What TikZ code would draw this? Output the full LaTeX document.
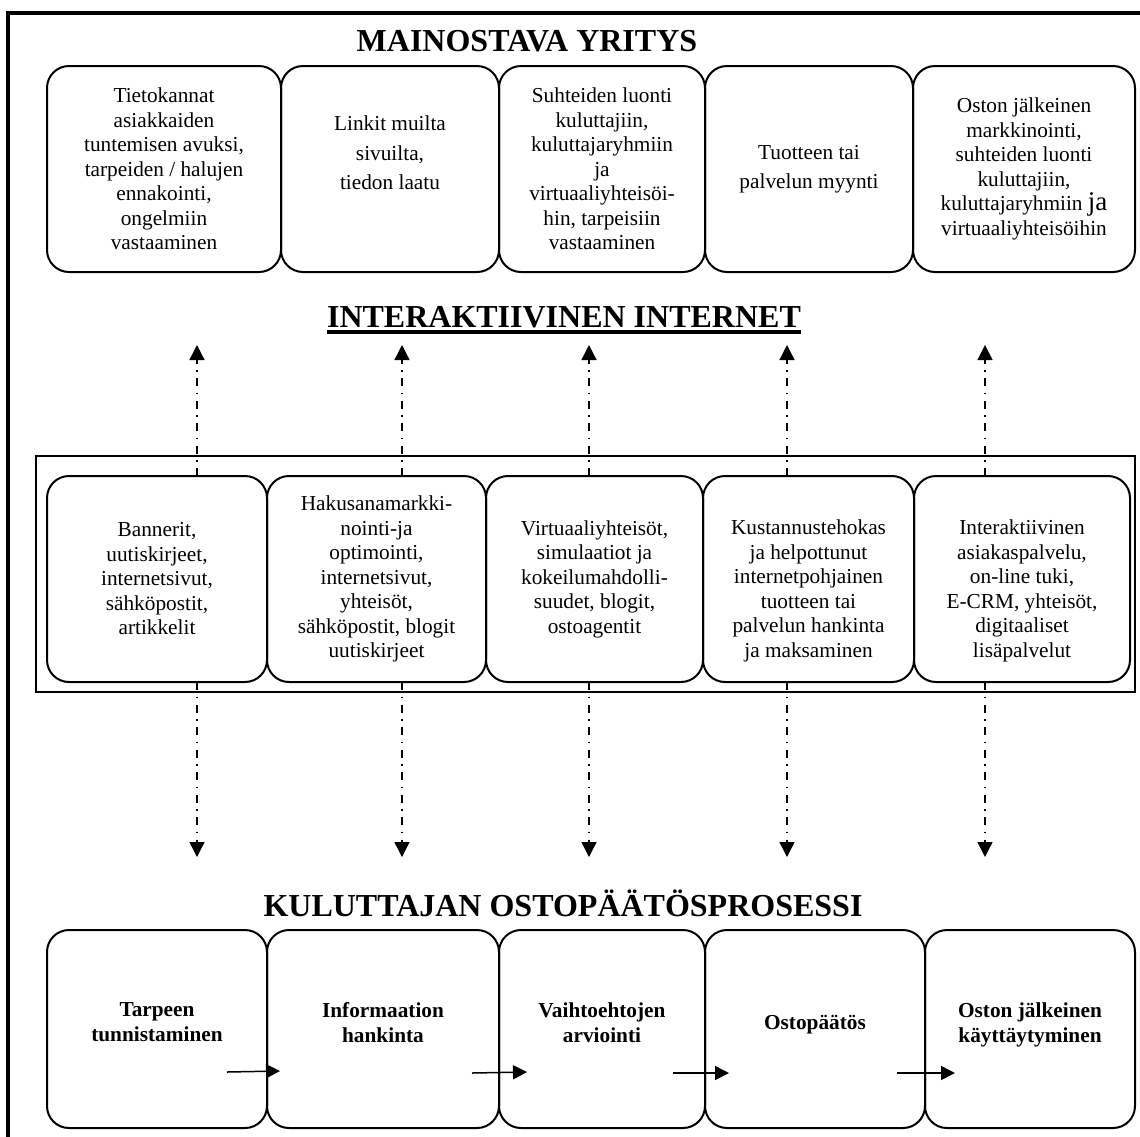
\documentclass[tikz,border=0pt]{standalone}
\usepackage{fontspec}
\setmainfont{Liberation Serif}
\usetikzlibrary{arrows.meta, positioning}

\begin{document}
\begin{tikzpicture}[
    x=0.5pt, y=-0.5pt,
    box/.style={
        rectangle,
        rounded corners=11pt,
        draw,
        line width=1pt,
        outer sep=0pt,
        inner sep=2pt,
        align=center,
        font=\fontsize{10.65}{12.25}\selectfont
    },
    wide/.style={
        font=\fontsize{10.65}{14.75}\selectfont
    },
    stage/.style={
        box,
        minimum height=99pt,
        font=\fontsize{10.65}{12.5}\selectfont\bfseries
    },
    heading/.style={
        anchor=base,
        inner sep=0pt,
        font=\fontsize{16}{19}\selectfont\bfseries
    },
    link/.style={
        -{Triangle[width=7.5pt,length=7.5pt]},
        line width=0.65pt,
        dash pattern=on 4pt off 3.25pt on 0.75pt off 3.25pt
    },
    flow/.style={-{Triangle[width=7pt,length=7pt]}, line width=0.75pt}
]
\useasboundingbox (0,0) rectangle (1140,1136);
\clip (0,0) rectangle (1140,1136);

% Outer frame (runs off the page on the right and bottom)
\draw[line width=1.75pt] (8,13) rectangle (1200,1200);

% Advertiser
\node (firm) [heading] at (527,51) {MAINOSTAVA YRITYS};

\node (db) [box, minimum width=117pt, minimum height=103pt] at (164,169)
    {Tietokannat\\asiakkaiden\\tuntemisen avuksi,\\tarpeiden / halujen\\ennakointi,\\ongelmiin\\vastaaminen};

\node (links) [box, wide, minimum width=109pt, minimum height=103pt, right=0pt of db]
    {Linkit muilta\\sivuilta,\\tiedon laatu\\[1.25pt]\mbox{}};

\node (rel) [box, minimum width=103pt, minimum height=103pt, right=0pt of links]
    {Suhteiden luonti\\kuluttajiin,\\kuluttajaryhmiin\\ja\\virtuaaliyhteisöi-\\hin, tarpeisiin\\vastaaminen};

\node (sale) [box, wide, minimum width=104pt, minimum height=103pt, right=0pt of rel]
    {Tuotteen tai\\palvelun myynti};

\node (after) [box, minimum width=111pt, minimum height=103pt, right=0pt of sale]
    {Oston jälkeinen\\markkinointi,\\suhteiden luonti\\kuluttajiin,\\kuluttajaryhmiin {\fontsize{13.5}{14}\selectfont ja}\\virtuaaliyhteisöihin};

% Internet
\node (net) [heading] at (564,327) {INTERAKTIIVINEN INTERNET};
\draw[line width=1.75pt] ([yshift=-2.6pt]net.base west) -- ([yshift=-2.6pt]net.base east);

\draw[line width=0.75pt] (36,456) rectangle (1135,692);

\node (banner) [box, minimum width=110pt, minimum height=103pt] at (157,579)
    {Bannerit,\\uutiskirjeet,\\internetsivut,\\sähköpostit,\\artikkelit};

\node (seo) [box, minimum width=109.5pt, minimum height=103pt, right=0pt of banner]
    {Hakusanamarkki-\\nointi-ja\\optimointi,\\internetsivut,\\yhteisöt,\\sähköpostit, blogit\\uutiskirjeet};

\node (virt) [box, minimum width=108.5pt, minimum height=103pt, right=0pt of seo]
    {Virtuaaliyhteisöt,\\simulaatiot ja\\kokeilumahdolli-\\suudet, blogit,\\ostoagentit};

\node (pay) [box, minimum width=105.5pt, minimum height=103pt, right=0pt of virt]
    {\mbox{}\\[7pt]Kustannustehokas\\ja helpottunut\\internetpohjainen\\tuotteen tai\\palvelun hankinta\\ja maksaminen};

\node (serv) [box, minimum width=108pt, minimum height=103pt, right=0pt of pay]
    {\mbox{}\\[7pt]Interaktiivinen\\asiakaspalvelu,\\on-line tuki,\\E-CRM, yhteisöt,\\digitaaliset\\lisäpalvelut};

% Links up to the firm and down to the consumer
\foreach \n/\x in {banner/197, seo/402, virt/589, pay/787, serv/985} {
    \coordinate (\n-up) at (\x,345);
    \coordinate (\n-dn) at (\x,857);
    \draw[link] (\n-up |- \n.north) -- (\n-up);
    \draw[link] (\n-dn |- \n.south) -- (\n-dn);
}

% Consumer
\node (proc) [heading] at (563,916) {KULUTTAJAN OSTOPÄÄTÖSPROSESSI};

\node (need) [stage, minimum width=110pt] at (157,1029)
    {Tarpeen\\tunnistaminen\\[-6pt]\mbox{}};

\node (info) [stage, minimum width=116pt, right=0pt of need]
    {Informaation\\hankinta\\[-6pt]\mbox{}};

\node (eval) [stage, minimum width=103pt, right=0pt of info]
    {Vaihtoehtojen\\arviointi\\[-6pt]\mbox{}};

\node (buy) [stage, minimum width=110pt, right=0pt of eval]
    {Ostopäätös\\[-6pt]\mbox{}};

\node (post) [stage, minimum width=105pt, right=0pt of buy]
    {Oston jälkeinen\\käyttäytyminen\\[-6pt]\mbox{}};

% Stage arrows
\coordinate (need-out) at (227,1072);
\coordinate (info-in) at (280,1071);
\coordinate (info-out) at (472,1073);
\coordinate (eval-in) at (527,1072);
\coordinate (eval-out) at (673,1073);
\coordinate (buy-in) at (729,1073);
\coordinate (buy-out) at (897,1073);
\coordinate (post-in) at (955,1073);

\draw[flow] (need-out) -- (info-in);
\draw[flow] (info-out) -- (eval-in);
\draw[flow] (eval-out) -- (buy-in);
\draw[flow] (buy-out) -- (post-in);

\end{tikzpicture}
\end{document}
